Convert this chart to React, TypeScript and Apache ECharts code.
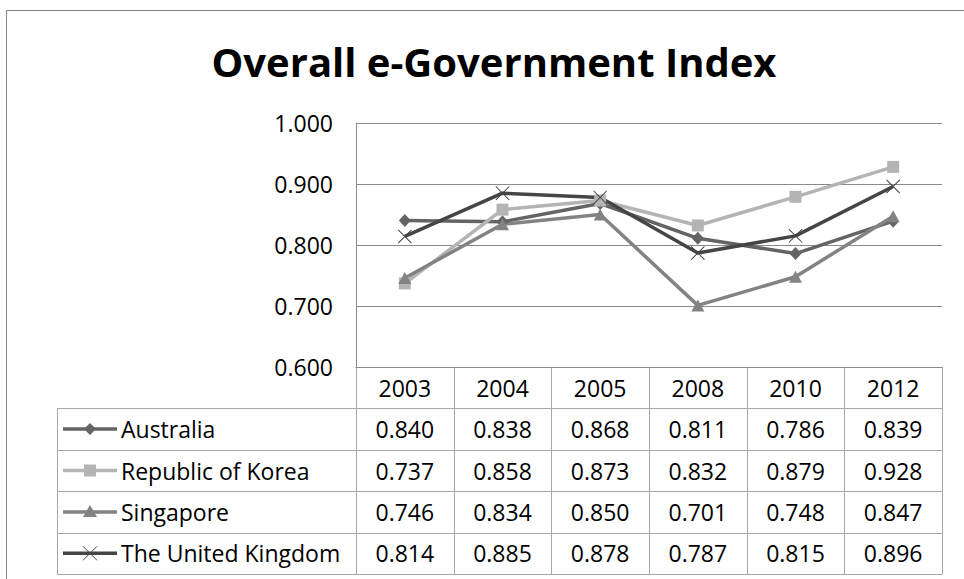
import React, { useEffect, useRef } from "react";
import * as echarts from "echarts";

const title = "Overall e-Government Index";
const years = ["2003", "2004", "2005", "2008", "2010", "2012"];
const seriesNames = ["Australia", "Republic of Korea", "Singapore", "The United Kingdom"];
const australia = [0.84, 0.838, 0.868, 0.811, 0.786, 0.839];
const korea = [0.737, 0.858, 0.873, 0.832, 0.879, 0.928];
const singapore = [0.746, 0.834, 0.85, 0.701, 0.748, 0.847];
const uk = [0.814, 0.885, 0.878, 0.787, 0.815, 0.896];
const yTicks = { min: 0.6, max: 1.0, interval: 0.1 };

const seriesValues = [australia, korea, singapore, uk];
const colors = ["#646464", "#b4b4b4", "#838383", "#454545"];
const markerKinds = ["diamond", "square", "triangle", "cross"];
const FONT = "Open Sans";
const FS = 23;

const W = 964;
const H = 579;
const plotL = 356;
const plotR = 942;
const plotT = 123;
const plotB = 367;
const tableL = 57;
const tableB = 574;
const rowH = (tableB - plotB) / (seriesNames.length + 1);
const colW = (plotR - plotL) / years.length;
const gridColor = "#8a8a8a";
const tableColor = "#a8a8a8";

const crossPath =
  "path://M0,5 L5,0 L50,45 L95,0 L100,5 L55,50 L100,95 L95,100 L50,55 L5,100 L0,95 L45,50 Z";

function symbolFor(kind: string): any {
  if (kind === "diamond") return { symbol: "diamond", symbolSize: [12, 13] };
  if (kind === "square") return { symbol: "rect", symbolSize: 12 };
  if (kind === "triangle") return { symbol: "triangle", symbolSize: [13, 12] };
  return { symbol: crossPath, symbolSize: 14 };
}

function legendMarker(kind: string, cx: number, cy: number, color: string): any {
  if (kind === "diamond")
    return {
      type: "polygon",
      shape: { points: [[cx, cy - 6], [cx + 6, cy], [cx, cy + 6], [cx - 6, cy]] },
      style: { fill: color },
    };
  if (kind === "square")
    return { type: "rect", shape: { x: cx - 6, y: cy - 6, width: 12, height: 12 }, style: { fill: color } };
  if (kind === "triangle")
    return {
      type: "polygon",
      shape: { points: [[cx, cy - 7], [cx + 7, cy + 5], [cx - 7, cy + 5]] },
      style: { fill: color },
    };
  return {
    type: "group",
    children: [
      { type: "line", shape: { x1: cx - 7, y1: cy - 7, x2: cx + 7, y2: cy + 7 }, style: { stroke: color, lineWidth: 1 } },
      { type: "line", shape: { x1: cx + 7, y1: cy - 7, x2: cx - 7, y2: cy + 7 }, style: { stroke: color, lineWidth: 1 } },
    ],
  };
}

export default function App() {
  const ref = useRef<HTMLDivElement>(null);
  useEffect(() => {
    if (!ref.current) return;
    const chart = echarts.init(ref.current, null, { renderer: "svg" });

    const graphics: any[] = [];
    // outer chart border (left and top)
    graphics.push({ type: "line", shape: { x1: 6.5, y1: 10.5, x2: W, y2: 10.5 }, style: { stroke: "#868686", lineWidth: 1 } });
    graphics.push({ type: "line", shape: { x1: 6.5, y1: 10.5, x2: 6.5, y2: H }, style: { stroke: "#868686", lineWidth: 1 } });

    // table lines
    for (let k = 0; k <= years.length; k++) {
      const x = Math.round(plotL + k * colW) + 0.5;
      graphics.push({ type: "line", shape: { x1: x, y1: plotB, x2: x, y2: tableB }, style: { stroke: tableColor, lineWidth: 1 } });
    }
    graphics.push({ type: "line", shape: { x1: tableL + 0.5, y1: plotB + rowH, x2: tableL + 0.5, y2: tableB }, style: { stroke: tableColor, lineWidth: 1 } });
    for (let r = 1; r <= seriesNames.length + 1; r++) {
      const y = Math.round(plotB + r * rowH) + 0.5;
      graphics.push({ type: "line", shape: { x1: tableL, y1: y, x2: plotR + 0.5, y2: y }, style: { stroke: tableColor, lineWidth: 1 } });
    }

    // rows
    seriesNames.forEach((name, i) => {
      const cy = plotB + (i + 1.5) * rowH;
      const color = colors[i];
      graphics.push({ type: "line", shape: { x1: 63, y1: cy, x2: 117, y2: cy }, style: { stroke: color, lineWidth: 3.5 } });
      graphics.push(legendMarker(markerKinds[i], 90, cy, color));
      graphics.push({
        type: "text",
        x: 121,
        y: cy,
        style: { text: name, font: `${FS}px "${FONT}"`, fill: "#000", align: "left", verticalAlign: "middle" },
      });
      seriesValues[i].forEach((v, j) => {
        graphics.push({
          type: "text",
          x: plotL + (j + 0.5) * colW,
          y: cy,
          style: { text: v.toFixed(3), font: `${FS}px "${FONT}"`, fill: "#000", align: "center", verticalAlign: "middle" },
        });
      });
    });

    chart.setOption({
      animation: false,
      backgroundColor: "#fff",
      title: {
        text: title,
        left: 489,
        textAlign: "center",
        top: 36,
        textStyle: { fontFamily: FONT, fontWeight: "bold", fontSize: 40, color: "#000" },
      },
      grid: { left: plotL, right: W - plotR, top: plotT, bottom: H - plotB, containLabel: false },
      xAxis: {
        type: "category",
        data: years,
        boundaryGap: true,
        axisLine: { show: true, lineStyle: { color: gridColor, width: 1 } },
        axisTick: { show: false },
        axisLabel: { fontFamily: FONT, fontSize: FS, color: "#000", margin: 9 },
        splitLine: { show: false },
      },
      yAxis: {
        type: "value",
        min: yTicks.min,
        max: yTicks.max,
        interval: yTicks.interval,
        axisLine: { show: true, lineStyle: { color: gridColor, width: 1 } },
        axisTick: { show: false },
        axisLabel: {
          fontFamily: FONT,
          fontSize: FS,
          color: "#000",
          margin: 23,
          formatter: (v: number) => v.toFixed(3),
        },
        splitLine: { show: true, lineStyle: { color: gridColor, width: 1 } },
      },
      series: seriesNames.map((name, i) => ({
        name,
        type: "line",
        data: seriesValues[i],
        ...symbolFor(markerKinds[i]),
        showSymbol: true,
        lineStyle: { color: colors[i], width: 3.5 },
        itemStyle: { color: colors[i] },
        emphasis: { disabled: true },
      })),
      graphic: graphics,
    });
    return () => chart.dispose();
  }, []);
  return (
    <div
      ref={ref}
      style={{ position: "fixed", left: 0, top: 0, width: W, height: H, background: "#fff" }}
    />
  );
}
